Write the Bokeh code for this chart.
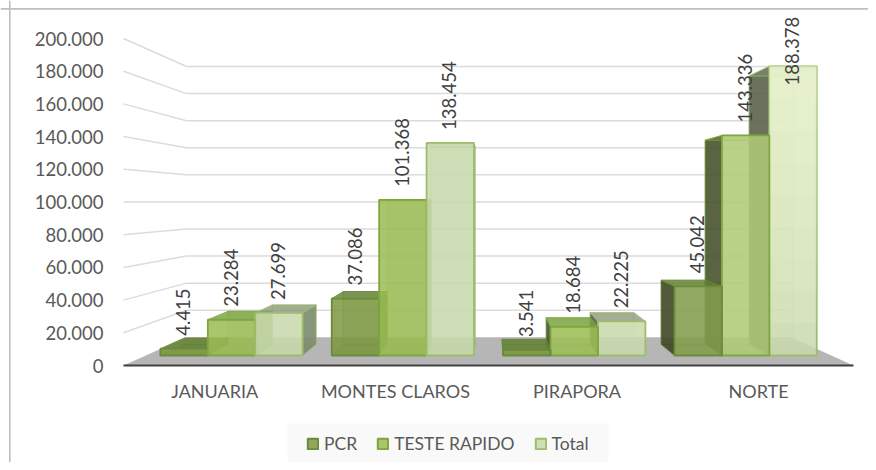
from bokeh.plotting import figure
from bokeh.models import (ColumnDataSource, LinearAxis, FixedTicker, Span, Legend, LegendItem, BoxAnnotation)
from bokeh.core.properties import value
from bokeh.embed import file_html
from bokeh.resources import INLINE
import math

categories = ["JANUARIA", "MONTES CLAROS", "PIRAPORA", "NORTE"]
series_names = ["PCR", "TESTE RAPIDO", "Total"]
pcr = [4415, 37086, 3541, 45042]
teste_rapido = [23284, 101368, 18684, 143336]
total = [27699, 138454, 22225, 188378]
value_ticks = [0, 20000, 40000, 60000, 80000, 100000, 120000, 140000, 160000, 180000, 200000]
value_tick_labels = ["0", "20.000", "40.000", "60.000", "80.000", "100.000", "120.000", "140.000", "160.000", "180.000", "200.000"]

FONT = "Lato"
W, H = 868, 462
PX_X0, PX_UNIT = 123.0, 182.5        # x of category 0 edge, px per category
PX_Y0, PX_V = 365.0, 327.0 / 200000  # y of value 0, px per value

x_start = -PX_X0 / PX_UNIT
x_end = x_start + W / PX_UNIT
y_end = PX_Y0 / PX_V
y_start = y_end - H / PX_V

def data_x(px): return (px - PX_X0) / PX_UNIT
def data_y(py): return (PX_Y0 - py) / PX_V
def mix(c, a):
    r = [int(c[k:k + 2], 16) for k in (1, 3, 5)]
    return "#%02x%02x%02x" % tuple(round(q + (255 - q) * a) for q in r)

# perspective
XV, YV = data_x(489), data_y(201)
S_BACK_WALL, S_BAR_FRONT, S_BAR_BACK = 0.828, 0.939, 0.871
BAR_W, GROUP = 0.2767, 3

def proj(t, v, s):
    return XV + (t - XV) * s, YV + (v - YV) * s

p = figure(width=W, height=H, x_range=(x_start, x_end), y_range=(y_start, y_end),
           x_axis_location=None, y_axis_location=None, toolbar_location=None,
           output_backend="svg", min_border=0, outline_line_color=None,
           background_fill_color="white", border_fill_color="white")
p.grid.visible = False

# chart-area border
for loc, dim in ((data_x(9.3), "height"), (data_y(8.4), "width")):
    p.add_layout(Span(location=loc, dimension=dim, line_color="#bfbfbf", line_width=1.6))

# floor
fx, fy = zip(*[proj(0, 0, 1), proj(4.0, 0, 1), proj(4.0, 0, S_BACK_WALL), proj(0, 0, S_BACK_WALL)])
p.patch(list(fx), list(fy), fill_color="#b6b6b6", line_color=None)

# gridlines on walls
for v in value_ticks[1:]:
    a = proj(0, v, 1); b = proj(0, v, S_BACK_WALL); c = proj(4.0, v, S_BACK_WALL)
    p.line([a[0], b[0], c[0]], [a[1], b[1], c[1]], line_color="#dcdcdc", line_width=1.5)

STYLE = {
    # front, top, left side, right side, edge
    "PCR": ("#7b963f", "#5f7f30", "#3c4726", "#5f7a38", "#6b8a3a"),
    "TESTE RAPIDO": ("#9abc52", "#76a03a", "#454f2c", "#7fa04a", "#7fa53f"),
    "Total": ("#c8d9ab", "#8f9a7c", "#56604a", "#7c8c6c", "#9ebd6c"),
}
LEGEND_FILL = {"PCR": "#8fa65c", "TESTE RAPIDO": "#a9c66c", "Total": "#cfdfb5"}

faces = dict(xs=[], ys=[], fill=[], alpha=[], line=[], lw=[], la=[])
def add(pts, fill, alpha, line, lw, la=1.0):
    faces["xs"].append([q[0] for q in pts]); faces["ys"].append([q[1] for q in pts])
    faces["fill"].append(fill); faces["alpha"].append(alpha); faces["line"].append(line)
    faces["lw"].append(lw); faces["la"].append(la)

bars = []
for i, _ in enumerate(categories):
    for j, vals in enumerate((pcr, teste_rapido, total)):
        left = i + 0.5 + (j - GROUP / 2) * BAR_W
        bars.append((left, vals[i], series_names[j]))
bars.sort(key=lambda b: -abs(b[0] + BAR_W / 2 - XV))

lab_x, lab_y, lab_t = [], [], []
for left, v, name in bars:
    front, top, lside, rside, edge = STYLE[name]
    r = left + BAR_W
    fbl, fbr, ftr, ftl = [proj(t, w, S_BAR_FRONT) for t, w in ((left, 0), (r, 0), (r, v), (left, v))]
    bbl, bbr, btr, btl = [proj(t, w, S_BAR_BACK) for t, w in ((left, 0), (r, 0), (r, v), (left, v))]
    add([bbl, bbr, btr, btl], front, 0.2, edge, 1, 0.45)
    add([fbl, fbr, bbr, bbl], top, 0.3, edge, 1, 0.45)
    if left > XV:
        add([fbl, bbl, btl, ftl], lside, 0.88, edge, 1, 0.6)
    if r < XV:
        add([fbr, bbr, btr, ftr], rside, 0.9, edge, 1, 0.6)
    add([ftl, ftr, btr, btl], top, 0.8 if v < YV else 0.35, edge, 1, 0.8)
    # front face: tall bars on the right catch more light
    tall_total = left > XV and name == "Total" and v > YV
    light = 0.04 if tall_total else (0.29 * v / max(total) if left > XV else 0.0)
    add([fbl, fbr, ftr, ftl], mix(front, light), 0.85, edge, 1.8, 1)
    if tall_total:
        # light veils stacked towards the top of the face
        for k in range(1, 9):
            yk = fbl[1] + (ftl[1] - fbl[1]) * k / 9
            add([(fbl[0], yk), (fbr[0], yk), ftr, ftl], "#f6ffdc", 0.11, edge, 0, 0)
    cx = (fbl[0] + fbr[0]) / 2
    lab_x.append(cx - 0.005)
    lab_y.append(min(ftl[1], data_y(98)))
    lab_t.append(f"{v:,}".replace(",", "."))

p.patches("xs", "ys", source=ColumnDataSource(faces), fill_color="fill", fill_alpha="alpha",
          line_color="line", line_width="lw", line_alpha="la")

p.text(lab_x, lab_y, text=lab_t, angle=math.pi / 2, text_align="left", text_baseline="middle",
       y_offset=-13, text_font=value(FONT), text_font_size="18.5px", text_color="#404040")

# axes
xaxis = LinearAxis(fixed_location=0, ticker=FixedTicker(ticks=[0.5, 1.49, 2.485, 3.48]),
                   major_label_overrides={0.5: categories[0], 1.49: categories[1], 2.485: categories[2], 3.48: categories[3]},
                   bounds=(0, 4.0), axis_line_color="#404040", axis_line_width=2,
                   major_tick_line_color=None, minor_tick_line_color=None,
                   major_label_text_font=FONT, major_label_text_font_size="18px",
                   major_label_text_color="#595959", major_label_standoff=8)
p.add_layout(xaxis, "below")
yaxis = LinearAxis(fixed_location=0, ticker=FixedTicker(ticks=value_ticks),
                   major_label_overrides=dict(zip(value_ticks, value_tick_labels)),
                   axis_line_color=None, major_tick_line_color=None, minor_tick_line_color=None,
                   major_label_text_font=FONT, major_label_text_font_size="18.5px",
                   major_label_text_color="#595959", major_label_standoff=14)
p.add_layout(yaxis, "left")

# legend
p.add_layout(BoxAnnotation(left=data_x(287), right=data_x(608), top=data_y(423), bottom=data_y(462),
                           fill_color="#f9f9f9", fill_alpha=1, line_color=None, level="glyph"))
nan = float("nan")
items = []
for name in series_names:
    edge = STYLE[name][4]
    rr = p.quad(left=[nan], right=[nan], top=[nan], bottom=[nan], fill_color=LEGEND_FILL[name],
                line_color=edge, line_width=2)
    items.append(LegendItem(label=name, renderers=[rr]))
legend = Legend(items=items, orientation="horizontal", location=(306, 8), padding=8, margin=0,
                spacing=19, label_standoff=5, glyph_width=13, glyph_height=13,
                background_fill_alpha=0, border_line_color=None,
                label_text_font=FONT, label_text_font_size="17.5px", label_text_color="#595959")
p.add_layout(legend)

open("out.html", "w").write(file_html(p, INLINE))
